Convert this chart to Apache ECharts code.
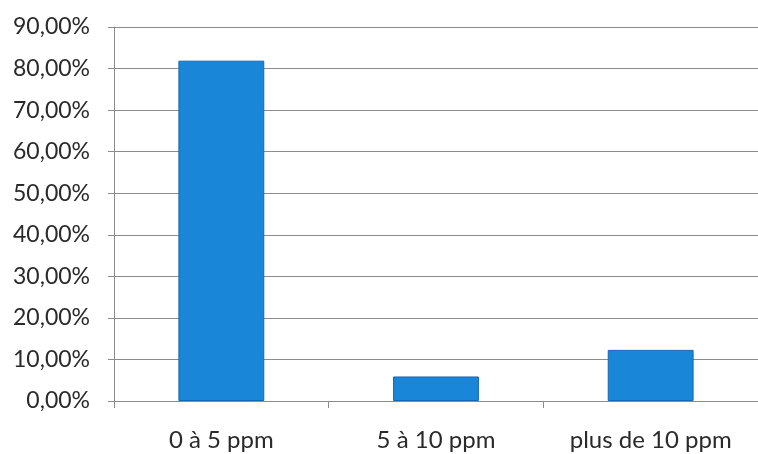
<!DOCTYPE html>
<html><head><meta charset="utf-8">
<script src="https://cdn.jsdelivr.net/npm/echarts@6/dist/echarts.min.js"></script>
<style>html,body{margin:0;padding:0;background:#fff}#c{width:758px;height:454px}</style>
</head><body><div id="c"></div>
<script>
const categories = ["0 à 5 ppm", "5 à 10 ppm", "plus de 10 ppm"];
const values = [81.9, 5.9, 12.3];
const yMin = 0, yMax = 90, yStep = 10;

const chart = echarts.init(document.getElementById('c'));
chart.setOption({
  animation: false,
  grid: { left: 114, top: 27, width: 650, height: 374, containLabel: false },
  xAxis: {
    type: 'category', data: categories,
    axisLine: { show: true, lineStyle: { color: '#8c8c8c', width: 1 } },
    axisTick: { show: true, length: 7, inside: false, lineStyle: { color: '#8c8c8c' } },
    axisLabel: { fontFamily: 'Lato', fontSize: 24, color: '#2a2a2a', margin: 27 }
  },
  yAxis: {
    type: 'value', min: yMin, max: yMax, interval: yStep,
    axisLine: { show: true, lineStyle: { color: '#8c8c8c', width: 1 } },
    axisTick: { show: true, length: 6, lineStyle: { color: '#8c8c8c' } },
    splitLine: { show: true, lineStyle: { color: '#8c8c8c', width: 1 } },
    axisLabel: { fontFamily: 'Lato', fontSize: 23, color: '#2a2a2a', margin: 24,
      formatter: v => v.toFixed(2).replace('.', ',') + '%' }
  },
  series: [{
    type: 'bar', data: values, barWidth: '40%',
    itemStyle: { color: '#1a86d8', borderColor: '#1766b4', borderWidth: 1 }
  }]
});
</script></body></html>
